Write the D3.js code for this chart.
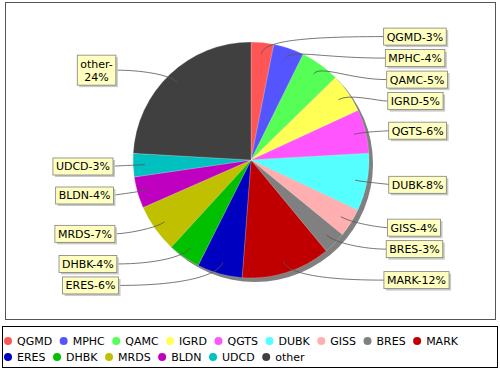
<!DOCTYPE html>
<html lang="en">
<head>
<meta charset="utf-8">
<title>Pie</title>
<script type="text/javascript" src="https://d3js.org/d3.v7.min.js"></script>
<style>
body { margin: 0; background: white; }
text { font-family: "DejaVu Sans", sans-serif; font-size: 11px; fill: black; }
</style>
</head>
<body>
<div id="container"></div>
<script type="text/javascript">
// data
var names = ["QGMD", "MPHC", "QAMC", "IGRD", "QGTS", "DUBK", "GISS", "BRES", "MARK",
             "ERES", "DHBK", "MRDS", "BLDN", "UDCD", "other"];
var values = [3.1, 4.2, 5.4, 5.4, 6.0, 7.9, 3.9, 3.1, 12.2, 6.2, 4.4, 6.6, 4.3, 3.2, 24.1];
var colors = ["#ff5555", "#5555ff", "#55ff55", "#ffff55", "#ff55ff", "#55ffff", "#ffafaf", "#808080",
              "#c00000", "#0000c0", "#00c000", "#c0c000", "#c000c0", "#00c0c0", "#404040"];
var wrapped = ["other"];   // these labels break onto two lines

var w = 500, h = 370;
var cx = 251, cy = 160, r = 118;

var svg = d3.select("div#container").append("svg")
    .attr("width", w).attr("height", h);

// plot outline
svg.append("rect")
    .attr("x", 5.5).attr("y", 2.5).attr("width", 490).attr("height", 317)
    .attr("fill", "white").attr("stroke", "#555").attr("stroke-width", 1);

var total = d3.sum(values);
var pie = d3.pie().sort(null).value(function(d) { return d; });
var arcs = pie(values);
var arc = d3.arc().innerRadius(0).outerRadius(r);

var g = svg.append("g").attr("transform", "translate(" + cx + "," + cy + ")");

// shadow
g.append("circle").attr("cx", 4).attr("cy", 4).attr("r", r).attr("fill", "#808080");

g.selectAll("path.slice")
    .data(arcs)
    .enter()
    .append("path")
        .attr("class", "slice")
        .attr("d", arc)
        .attr("fill", function(d, i) { return colors[i]; })
        .attr("stroke", "#ffffff")
        .attr("stroke-opacity", 0.4)
        .attr("stroke-width", 0.5);

// labels
var labelR = 125, lineH = 13, boxPad = 3, gapY = 4.5;
var measure = svg.append("text").attr("visibility", "hidden");
function textW(s) { measure.text(s); return measure.node().getComputedTextLength(); }

var labels = arcs.map(function(d, i) {
    var mid = (d.startAngle + d.endAngle) / 2;
    var pct = Math.round(values[i] / total * 100);
    var lines = wrapped.indexOf(names[i]) >= 0 ? [names[i] + "-", pct + "%"] : [names[i] + "-" + pct + "%"];
    var tw = d3.max(lines, textW);
    return {
        i: i, mid: mid, lines: lines,
        bw: tw + 2 * boxPad, bh: lines.length * lineH + 4,
        right: Math.sin(mid) >= 0,
        y: cy + 1 - labelR * Math.cos(mid)
    };
});

// push overlapping labels down, each side separately
[true, false].forEach(function(side) {
    var s = labels.filter(function(l) { return l.right === side; })
        .sort(function(a, b) { return a.y - b.y; });
    for (var k = 1; k < s.length; k++) {
        var minY = s[k - 1].y + s[k - 1].bh / 2 + s[k].bh / 2 + gapY;
        if (s[k].y < minY) s[k].y = minY;
    }
});

var lg = svg.append("g");
labels.forEach(function(l) {
    var dy = (l.y - cy) / labelR;
    var off = 138 - 5.5 * dy * dy;
    var edge = l.right ? cx + off : cx - off;
    var bx = l.right ? edge : edge - l.bw;
    var by = l.y - l.bh / 2;
    var sgn = l.right ? 1 : -1;

    // link curve
    var lx = cx + 0.9 * r * Math.sin(l.mid), ly = cy - 0.9 * r * Math.cos(l.mid);
    var ex = cx + r * Math.sin(l.mid), ey = cy - r * Math.cos(l.mid);
    var p = d3.path();
    p.moveTo(lx, ly);
    p.bezierCurveTo(ex, ey, ex + sgn * 30, l.y, edge, l.y);
    lg.append("path").attr("d", p.toString())
        .attr("fill", "none").attr("stroke", "#555").attr("stroke-width", 0.8);

    // box with shadow
    lg.append("rect").attr("x", bx + 2).attr("y", by + 2).attr("width", l.bw).attr("height", l.bh)
        .attr("fill", "#c8c8c8");
    lg.append("rect").attr("x", bx).attr("y", by).attr("width", l.bw).attr("height", l.bh)
        .attr("fill", "#ffffc0").attr("stroke", "#808080").attr("stroke-width", 0.8);
    l.lines.forEach(function(t, j) {
        lg.append("text")
            .attr("x", bx + l.bw / 2)
            .attr("y", by + 2 + lineH * j + 10.5)
            .attr("text-anchor", "middle")
            .text(t);
    });
});

// legend
svg.append("rect")
    .attr("x", 2.5).attr("y", 326.5).attr("width", 495).attr("height", 41)
    .attr("fill", "white").attr("stroke", "black").attr("stroke-width", 1);

var lx0 = 4, lxMax = 494, rowY = [341, 357];
var px = lx0, row = 0;
var leg = svg.append("g");
names.forEach(function(n, i) {
    var tw = textW(n);
    var iw = 13 + tw;
    if (px + iw > lxMax) { row++; px = lx0; }
    leg.append("circle").attr("cx", px + 4).attr("cy", rowY[row]).attr("r", 4)
        .attr("fill", colors[i]);
    leg.append("text").attr("x", px + 13).attr("y", rowY[row] + 4).text(n);
    px += iw + 7.5;
});
measure.remove();
</script>
</body>
</html>
